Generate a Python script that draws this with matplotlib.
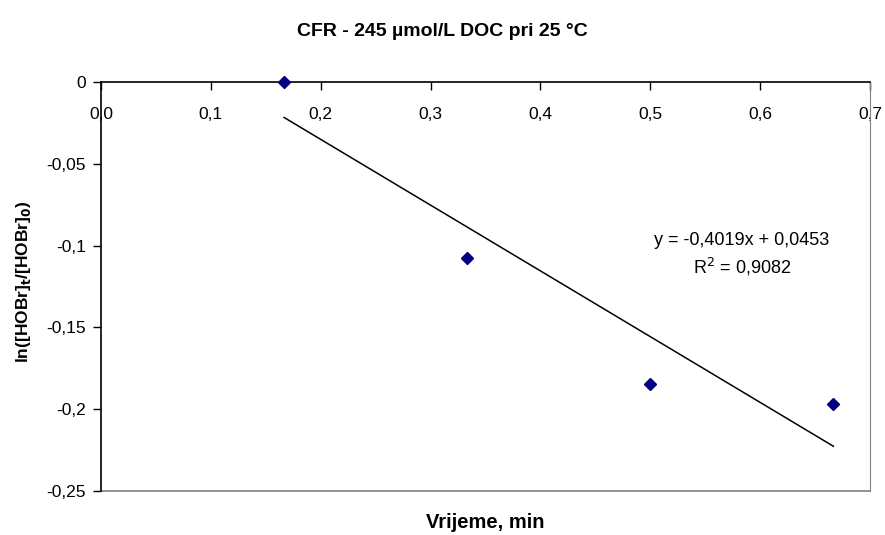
import matplotlib
matplotlib.use("Agg")
import matplotlib.pyplot as plt
import numpy as np
from matplotlib.ticker import FuncFormatter

plt.rcParams['font.family'] = ['Liberation Sans', 'DejaVu Sans']

# data
time_min = [0.1667, 0.3333, 0.5, 0.6667]
ln_ratio = [0.0, -0.1076, -0.1846, -0.1968]
slope, intercept = -0.4019, 0.0453
r2 = 0.9082

x_ticks = [0.0, 0.1, 0.2, 0.3, 0.4, 0.5, 0.6, 0.7]
y_ticks = [0.0, -0.05, -0.1, -0.15, -0.2, -0.25]

fig = plt.figure(figsize=(8.85, 5.35), dpi=100)
ax = fig.add_axes([101/885, 1-491/535, (870-101)/885, (491-82)/535])

# trendline over the data range
xt = np.array([time_min[0], time_min[-1]])
ax.plot(xt, slope*xt + intercept, color='black', lw=1.1)
ax.plot(time_min, ln_ratio, ls='none', marker='D', ms=6.5,
        color='#000080', clip_on=False, zorder=5)

ax.set_xlim(0, 0.7)
ax.set_ylim(-0.25, 0)

def comma(fmt):
    return FuncFormatter(lambda v, p: fmt(v).replace('.', ','))

ax.set_xticks(x_ticks)
ax.set_yticks(y_ticks)
ax.xaxis.set_major_formatter(comma(lambda v: f"{v:.1f}"))
ax.yaxis.set_major_formatter(comma(lambda v: "0" if abs(v) < 1e-9 else f"{v:g}"))

ax.spines['bottom'].set_position(('data', 0))
ax.spines['top'].set_visible(False)
ax.spines['right'].set_color('#808080')
ax.axhline(-0.25, color='#808080', lw=1.2, clip_on=False)
for s in ('bottom', 'left'):
    ax.spines[s].set_linewidth(1.2)
ax.tick_params(axis='x', direction='out', length=6, width=1, pad=12, labelsize=12.5)
ax.tick_params(axis='y', direction='out', length=6, width=1, pad=5, labelsize=12.5)

ax.text(0.5835, -0.0966, "y = -0,4019x + 0,0453", ha='center', va='center', fontsize=13)
ax.text(0.5835, -0.1131, "R$^2$ = 0,9082", ha='center', va='center', fontsize=13)

fig.text(0.5, 1-32/535, "CFR - 245 µmol/L DOC pri 25 °C", ha='center', va='center',
         fontsize=14, fontweight='bold')
fig.text(485/885, 1-523/535, "Vrijeme, min", ha='center', va='center',
         fontsize=14.5, fontweight='bold')
fig.text(24/885, 1-282/535, r"ln([HOBr]$_\mathbf{t}$/[HOBr]$_\mathbf{0}$)", ha='center', va='center',
         rotation=90, fontsize=12.5, fontweight='bold')

fig.savefig("out.png", dpi=100)
